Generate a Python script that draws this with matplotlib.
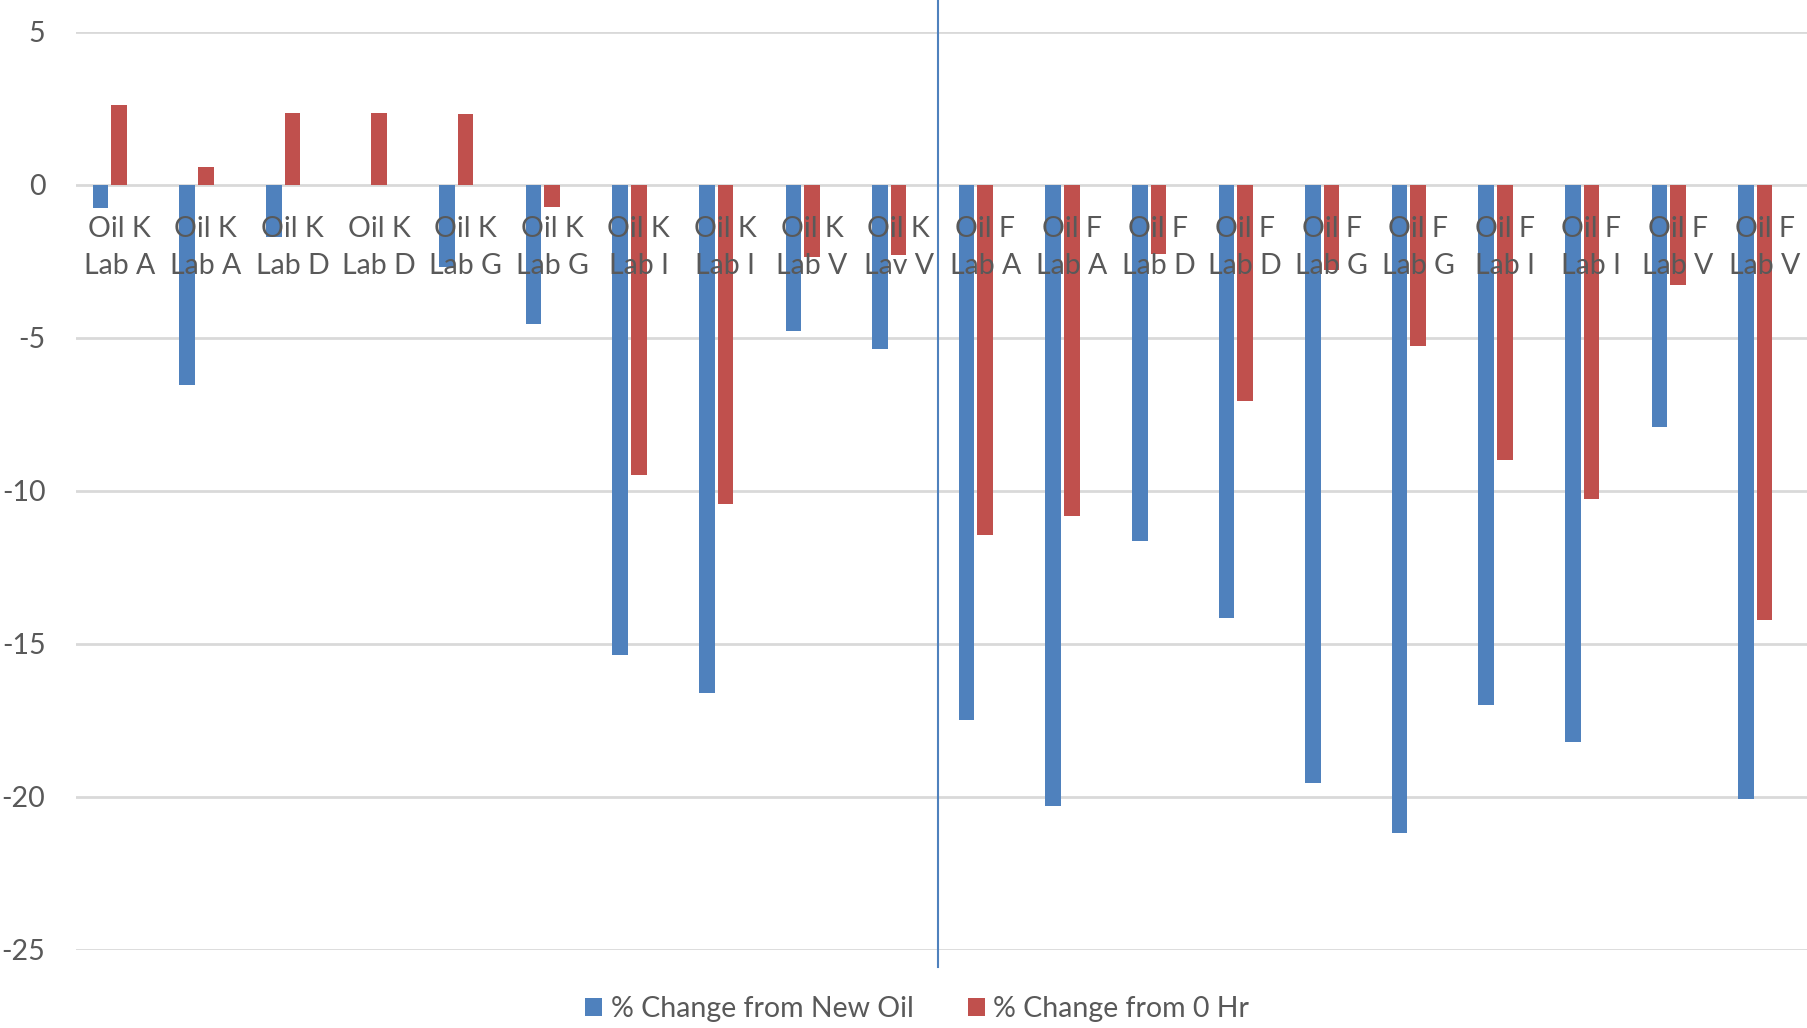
import numpy as np
import matplotlib.pyplot as plt

plt.rcParams['font.family'] = ['Lato', 'DejaVu Sans']
plt.rcParams['axes.unicode_minus'] = False

categories = ['Oil K\nLab A', 'Oil K\nLab A', 'Oil K\nLab D', 'Oil K\nLab D',
              'Oil K\nLab G', 'Oil K\nLab G', 'Oil K\nLab I', 'Oil K\nLab I',
              'Oil K\nLab V', 'Oil K\nLav V',
              'Oil F\nLab A', 'Oil F\nLab A', 'Oil F\nLab D', 'Oil F\nLab D',
              'Oil F\nLab G', 'Oil F\nLab G', 'Oil F\nLab I', 'Oil F\nLab I',
              'Oil F\nLab V', 'Oil F\nLab V']
change_new_oil = [-0.76, -6.55, -1.69, 0.0, -2.67, -4.55, -15.35, -16.6, -4.77, -5.35,
                  -17.5, -20.3, -11.62, -14.15, -19.55, -21.17, -17.0, -18.2, -7.92, -20.08]
change_0hr = [2.61, 0.58, 2.35, 2.34, 2.31, -0.71, -9.47, -10.42, -2.35, -2.29,
              -11.43, -10.83, -2.26, -7.06, -2.78, -5.26, -8.98, -10.26, -3.28, -14.23]
yticks = [5, 0, -5, -10, -15, -20, -25]

blue = '#4F81BD'
red = '#C0504D'
text_col = '#595959'
fs = 20.5

fig = plt.figure(figsize=(18.08, 10.28), dpi=100)
ax = fig.add_axes([0.042, 0.0759, 0.958, 0.893])

x = np.arange(len(categories))
w = 0.18
ax.bar(x - 0.215, change_new_oil, width=w, color=blue, label='% Change from New Oil', zorder=2)
ax.bar(x, change_0hr, width=w, color=red, label='% Change from 0 Hr', zorder=2)

ax.set_xlim(-0.5, len(categories) - 0.5)
ax.set_ylim(-25, 5)
ax.set_yticks(yticks)
ax.yaxis.grid(True, color='#D9D9D9', linewidth=2)
ax.set_axisbelow(True)

# category labels sit just under the zero line, drawn over the bars
ax.spines['bottom'].set_position(('data', 0))
for s in ax.spines.values():
    s.set_visible(False)
ax.set_xticks(x)
ax.set_xticklabels(categories, fontsize=fs, color=text_col, linespacing=1.55)
ax.xaxis.set_zorder(5)
ax.tick_params(axis='x', length=0, pad=22)
ax.tick_params(axis='y', length=0, pad=22, labelsize=fs, labelcolor=text_col)

# divider between the two oils
ax.axvline(9.45, ymin=-0.0185, ymax=1.04, color=blue, linewidth=1.5, clip_on=False)

fig.legend(loc='center', bbox_to_anchor=(917 / 1808, 1 - 1009 / 1028), ncol=2,
           frameon=False, fontsize=fs, labelcolor=text_col, handlelength=0.6,
           handleheight=0.6, handletextpad=0.3, columnspacing=1.9)

fig.savefig('out.png', dpi=100)
